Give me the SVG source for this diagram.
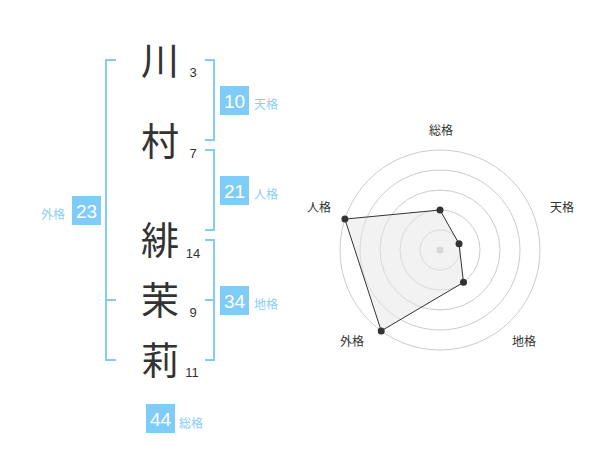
<svg xmlns="http://www.w3.org/2000/svg" width="600" height="470" viewBox="0 0 600 470">
<style>
.kanji{font-family:"Noto Sans CJK JP","Noto Sans CJK SC",sans-serif;font-size:38px;fill:#333;text-anchor:middle}
.stroke{font-family:"Liberation Sans",Arial,sans-serif;font-size:13px;fill:#333;text-anchor:middle}
.br{fill:none;stroke:#86cbf6;stroke-width:2}
.box{fill:#80ccf8}
.num{font-family:"Liberation Sans",Arial,sans-serif;font-size:19px;fill:#fff;text-anchor:middle}
.lbl{font-family:"Noto Sans CJK JP","Noto Sans CJK SC",sans-serif;font-size:12px;fill:#8ccdf5}
.rl{font-family:"Noto Sans CJK JP","Noto Sans CJK SC",sans-serif;font-size:12px;fill:#333;text-anchor:middle}
.ring{fill:none;stroke:#cccccc;stroke-width:1}
.pt{fill:#333}
</style>
<rect width="600" height="470" fill="#fff"/>
<g id="connectors">
<path class="br" d="M116,60 H106 V360 H116 M106,300 H116"/>
<path class="br" d="M205,60 H214 V140 H205"/>
<path class="br" d="M205,150 H214 V230 H205"/>
<path class="br" d="M205,240 H214 V360 H205 M214,300 H205"/>
</g>
<g id="char-kawa"><text class="kanji" x="160" y="74">川</text><text class="stroke" x="193" y="77">3</text></g>
<g id="char-mura"><text class="kanji" x="160" y="155">村</text><text class="stroke" x="193" y="158">7</text></g>
<g id="char-hi"><text class="kanji" x="160" y="254">緋</text><text class="stroke" x="193" y="258">14</text></g>
<g id="char-matsu"><text class="kanji" x="160" y="314">茉</text><text class="stroke" x="193" y="317">9</text></g>
<g id="char-ri"><text class="kanji" x="160" y="374">莉</text><text class="stroke" x="192" y="377">11</text></g>
<g id="tenkaku"><rect class="box" x="220" y="86" width="29" height="29"/><text class="num" x="234.5" y="107.5">10</text><text class="lbl" x="254" y="109">天格</text></g>
<g id="jinkaku"><rect class="box" x="220" y="176" width="29" height="29"/><text class="num" x="234.5" y="197.5">21</text><text class="lbl" x="254" y="199">人格</text></g>
<g id="chikaku"><rect class="box" x="220" y="286" width="29" height="29"/><text class="num" x="234.5" y="307.5">34</text><text class="lbl" x="254" y="309">地格</text></g>
<g id="gaikaku"><rect class="box" x="72" y="196" width="29" height="29"/><text class="num" x="86.5" y="217.5">23</text><text class="lbl" x="41" y="219">外格</text></g>
<g id="soukaku"><rect class="box" x="146" y="404" width="29" height="29"/><text class="num" x="160.5" y="425.5">44</text><text class="lbl" x="179" y="428">総格</text></g>
<g id="radar">
<circle class="ring" cx="440" cy="250" r="20"/>
<circle class="ring" cx="440" cy="250" r="40"/>
<circle class="ring" cx="440" cy="250" r="60"/>
<circle class="ring" cx="440" cy="250" r="80"/>
<circle class="ring" cx="440" cy="250" r="100"/>
<circle cx="440" cy="250" r="3.5" fill="#c8c8c8"/>
<polygon points="440,210 459.02,243.82 463.51,282.36 381.22,330.9 344.89,219.1" fill="#e6e6e6" fill-opacity="0.5" stroke="#333" stroke-width="1"/>
<circle class="pt" cx="440" cy="210" r="3.5"/>
<circle class="pt" cx="459.02" cy="243.82" r="3.5"/>
<circle class="pt" cx="463.51" cy="282.36" r="3.5"/>
<circle class="pt" cx="381.22" cy="330.9" r="3.5"/>
<circle class="pt" cx="344.89" cy="219.1" r="3.5"/>
<text class="rl" x="441" y="135">総格</text>
<text class="rl" x="562" y="212">天格</text>
<text class="rl" x="319" y="212">人格</text>
<text class="rl" x="352" y="346">外格</text>
<text class="rl" x="524" y="346">地格</text>
</g>
</svg>
